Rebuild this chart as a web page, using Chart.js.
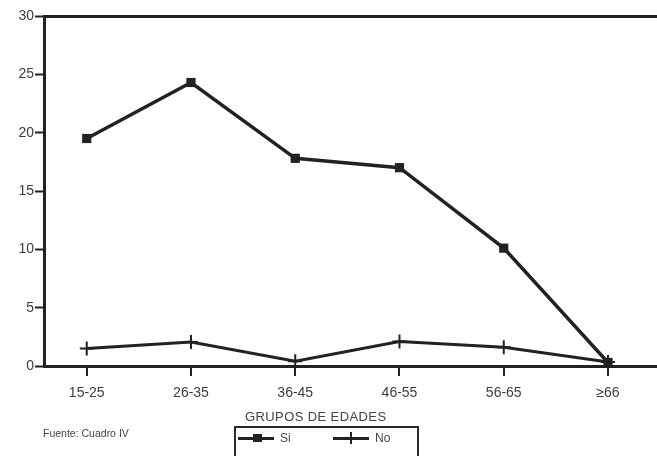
<!DOCTYPE html>
<html>
<head>
<meta charset="utf-8">
<script src="https://cdn.jsdelivr.net/npm/chart.js@4"></script>
<style>
    body { margin: 0; background: #fff; }
    .wrap { position: relative; width: 657px; height: 456px; overflow: hidden; font-family: "Liberation Sans", Arial, sans-serif; color: #444; }
    canvas { position: absolute; left: 0; top: 0; }
    .source { position: absolute; left: 43px; top: 427px; font-size: 10.5px; }
    .legend-title { position: absolute; left: 245px; top: 409px; font-size: 13px; letter-spacing: 0.4px; }
    .legend-box { position: absolute; left: 234px; top: 426px; width: 181px; height: 40px; border: 2px solid #2a2a2a; }
    .item { position: absolute; top: 3px; font-size: 12px; display: flex; align-items: center; }
    .item .sym { position: relative; width: 36px; height: 12px; margin-right: 6px; }
    .sym .ln { position: absolute; left: 0; right: 0; top: 5px; height: 3px; background: #222; }
    .sym .sq { position: absolute; left: 15px; top: 2px; width: 9px; height: 8px; background: #222; }
    .sym .vt { position: absolute; left: 17px; top: 0; width: 2px; height: 12px; background: #222; }
</style>
</head>
<body>
<div class="wrap">
    <canvas id="edades" width="657" height="456"></canvas>
    <div class="source">Fuente: Cuadro IV</div>
    <div class="legend-title">GRUPOS DE EDADES</div>
    <div class="legend-box">
        <div class="item" style="left: 2px;"><span class="sym"><span class="ln"></span><span class="sq"></span></span>Si</div>
        <div class="item" style="left: 97px;"><span class="sym"><span class="ln"></span><span class="vt"></span></span>No</div>
    </div>
</div>
<script>
// age groups and percentages per answer
const ageGroups = ['15-25', '26-35', '36-45', '46-55', '56-65', '≥66'];
const siValues = [19.5, 24.3, 17.8, 17.0, 10.1, 0.3];
const noValues = [1.5, 2.05, 0.4, 2.1, 1.6, 0.35];
const yTicks = [0, 5, 10, 15, 20, 25, 30];

const toPoints = vals => vals.map((v, i) => ({ x: i, y: v }));
const ink = '#222';
const tickFont = { family: 'Liberation Sans', size: 14 };

new Chart(document.getElementById('edades'), {
    type: 'line',
    data: {
        datasets: [{
            label: 'Si',
            data: toPoints(siValues),
            borderColor: ink,
            backgroundColor: ink,
            borderWidth: 3.5,
            pointStyle: 'rect',
            pointRadius: 6.5,
            pointBorderWidth: 0
        }, {
            label: 'No',
            data: toPoints(noValues),
            borderColor: ink,
            backgroundColor: ink,
            borderWidth: 3,
            pointStyle: 'cross',
            pointRadius: 7,
            pointBorderWidth: 2
        }]
    },
    options: {
        responsive: false,
        animation: false,
        layout: { autoPadding: false, padding: { top: 16, right: 0, left: 0, bottom: 0 } },
        plugins: { legend: { display: false }, tooltip: { enabled: false } },
        scales: {
            x: {
                type: 'linear',
                min: -0.41,
                max: 5.47,
                afterBuildTicks: s => { s.ticks = ageGroups.map((_, i) => ({ value: i })); },
                afterFit: s => { s.height = 90; },
                border: { color: ink, width: 3 },
                grid: { drawOnChartArea: false, tickLength: 10, tickColor: ink, lineWidth: 2 },
                ticks: { color: '#3c3c3c', font: tickFont, padding: 9, callback: v => ageGroups[v] }
            },
            y: {
                min: 0,
                max: 30,
                afterBuildTicks: s => { s.ticks = yTicks.map(v => ({ value: v })); },
                afterFit: s => { s.width = 44; },
                border: { color: ink, width: 3 },
                grid: {
                    color: c => c.tick && c.tick.value === 30 ? ink : 'rgba(0,0,0,0)',
                    lineWidth: 3,
                    tickLength: 9,
                    tickColor: ink,
                    tickWidth: 2
                },
                ticks: { color: '#3c3c3c', font: tickFont, padding: 1 }
            }
        }
    }
});
</script>
</body>
</html>
